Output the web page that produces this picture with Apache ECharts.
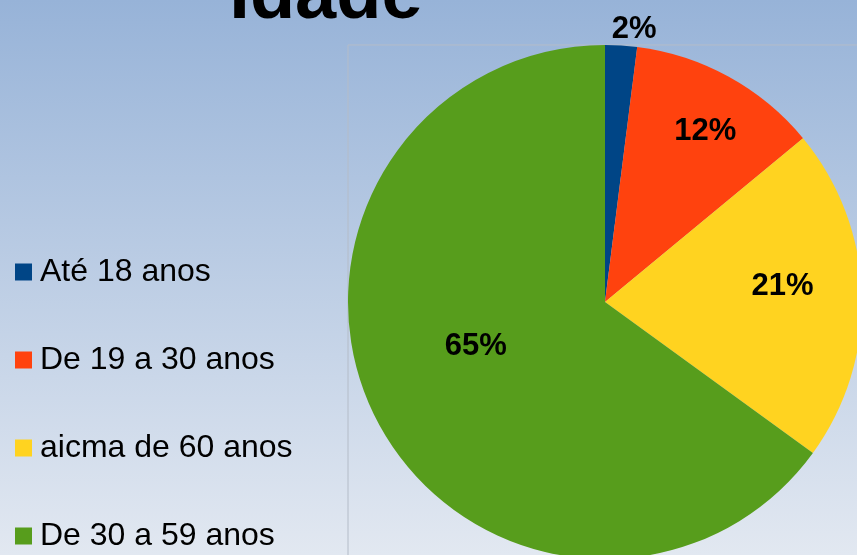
<!DOCTYPE html>
<html>
<head>
<meta charset="utf-8">
<script src="https://cdn.jsdelivr.net/npm/echarts@6/dist/echarts.min.js"></script>
<style>
  html, body { margin: 0; padding: 0; }
  #main { width: 857px; height: 555px; }
</style>
</head>
<body>
<div id="main"></div>
<script>
// faixas etárias e percentuais
var categories = ['Até 18 anos', 'De 19 a 30 anos', 'aicma de 60 anos', 'De 30 a 59 anos'];
var values = [2, 12, 21, 65];
var colors = ['#004586', '#ff420e', '#ffd320', '#579d1c'];
// deslocamento dos rótulos (estilo)
var labelOffsets = [[21, -141], [37, -55], [46, -11], [-12, -15]];

var chart = echarts.init(document.getElementById('main'));

var data = categories.map(function (name, i) {
  return {
    name: name,
    value: values[i],
    itemStyle: { color: colors[i] },
    label: { offset: labelOffsets[i] }
  };
});

var options = {
  backgroundColor: {
    type: 'linear', x: 0, y: 0, x2: 0, y2: 1,
    colorStops: [
      { offset: 0, color: '#97b3d8' },
      { offset: 1, color: '#e2e8f1' }
    ]
  },
  animation: false,
  graphic: [
    {
      type: 'rect',
      shape: { x: 348, y: 45, width: 700, height: 700 },
      style: { fill: null, stroke: '#b4bcc8', lineWidth: 1 },
      z: 0
    },
    {
      type: 'text',
      x: 326, y: -2,
      style: {
        text: 'Idade',
        fill: '#000',
        font: 'bold 74px "Liberation Sans", Arial, sans-serif',
        textAlign: 'center',
        textVerticalAlign: 'middle'
      },
      z: 10
    }
  ],
  legend: {
    orient: 'vertical',
    left: 15,
    top: 256,
    padding: 0,
    icon: 'rect',
    itemWidth: 17,
    itemHeight: 17,
    itemGap: 56,
    selectedMode: false,
    textStyle: {
      fontFamily: '"Liberation Sans", Arial, sans-serif',
      fontSize: 32,
      color: '#000',
      padding: [2, 0, 0, 3]
    },
    data: categories
  },
  series: [
    {
      type: 'pie',
      center: [605, 302],
      radius: [0, 257],
      startAngle: 90,
      clockwise: true,
      data: data,
      label: {
        position: 'inside',
        formatter: '{d}%',
        fontFamily: '"Liberation Sans", Arial, sans-serif',
        fontWeight: 'bold',
        fontSize: 31,
        color: '#000'
      },
      labelLine: { show: false },
      emphasis: { disabled: true },
      z: 5
    }
  ]
};

chart.setOption(options);
</script>
</body>
</html>
